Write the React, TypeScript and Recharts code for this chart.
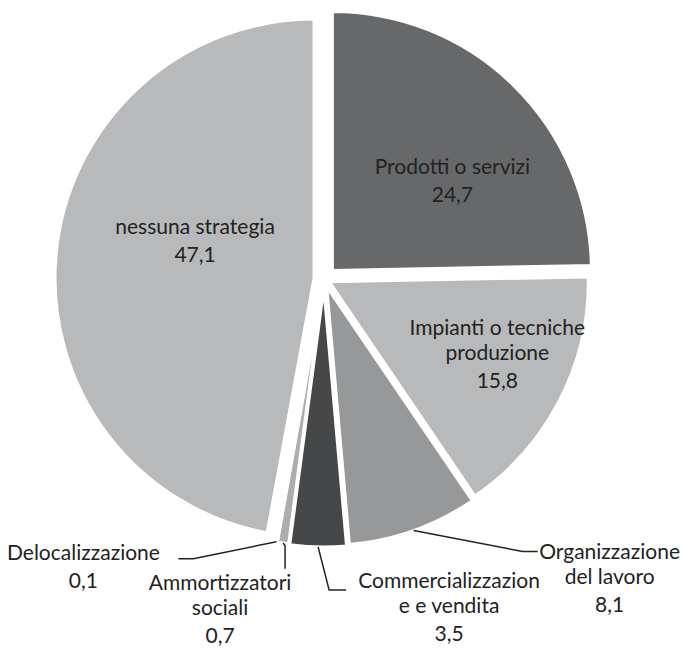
import { PieChart, Pie, Cell, Sector } from 'recharts';

const categories = [
  'Prodotti o servizi',
  'Impianti o tecniche produzione',
  'Organizzazione del lavoro',
  'Commercializzazione e vendita',
  'Ammortizzatori sociali',
  'Delocalizzazione',
  'nessuna strategia',
];
const values = [24.7, 15.8, 8.1, 3.5, 0.7, 0.1, 47.1];
const valueLabels = ['24,7', '15,8', '8,1', '3,5', '0,7', '0,1', '47,1'];
const labelLines = [
  ['Prodotti o servizi'],
  ['Impianti o tecniche', 'produzione'],
  ['Organizzazione', 'del lavoro'],
  ['Commercializzazion', 'e e vendita'],
  ['Ammortizzatori', 'sociali'],
  ['Delocalizzazione'],
  ['nessuna strategia'],
];

const colors = ['#67686a', '#b8b9bb', '#97989a', '#464749', '#acadaf', '#b8b9bb', '#b8b9bb'];
// how far each slice is pulled out of the centre
const explode = [12, 6, 8, 9, 8, 8, 10];

// label placement: inside = first line relative to slice tip,
// outside = leader elbow / end and first text line relative to arc midpoint
type LabelLayout =
  | { kind: 'inside'; dx: number; dy: number }
  | { kind: 'outside'; elbow: [number, number]; end: [number, number]; text: [number, number] };

const layouts: LabelLayout[] = [
  { kind: 'inside', dx: 120, dy: -105 },
  { kind: 'inside', dx: 168, dy: 45 },
  { kind: 'outside', elbow: [109, 21], end: [124, 21], text: [196, 20] },
  { kind: 'outside', elbow: [11, 43], end: [28, 43], text: [131, 33] },
  { kind: 'outside', elbow: [2, 3], end: [2, 26], text: [-63, 39] },
  { kind: 'outside', elbow: [-83, 17], end: [-98, 17], text: [-193, 10] },
  { kind: 'inside', dx: -119, dy: -53 },
];

const data = categories.map((name, i) => ({ name, value: values[i] }));

const FONT = 'Lato, "Open Sans", sans-serif';
const NAME_GAP = 25;
const VALUE_GAP = 28;
const RAD = Math.PI / 180;

function shift(midAngle: number, idx: number) {
  const e = explode[idx] ?? 0;
  return { dx: e * Math.cos(-midAngle * RAD), dy: e * Math.sin(-midAngle * RAD) };
}

const ExplodedSector = (props: any) => {
  const idx = categories.indexOf(props.name ?? props.payload?.name);
  const { dx, dy } = shift(props.midAngle, idx);
  return <Sector {...props} cx={props.cx + dx} cy={props.cy + dy} />;
};

function LabelText({ idx, x, y }: { idx: number; x: number; y: number }) {
  const names = labelLines[idx];
  const rows = names.map((t, j) => ({ t, y: y + j * NAME_GAP }));
  rows.push({ t: valueLabels[idx], y: y + (names.length - 1) * NAME_GAP + VALUE_GAP });
  return (
    <>
      {rows.map((r, j) => (
        <text key={j} x={x} y={r.y} textAnchor="middle" dominantBaseline="central"
          fontFamily={FONT} fontSize={21} fill="#222">
          {r.t}
        </text>
      ))}
    </>
  );
}

const renderLabel = (props: any) => {
  const idx = categories.indexOf(props.name ?? props.payload?.name);
  if (idx < 0) return null;
  const { dx, dy } = shift(props.midAngle, idx);
  const tipX = props.cx + dx;
  const tipY = props.cy + dy;
  const layout = layouts[idx];

  if (layout.kind === 'inside') {
    return (
      <g key={`lbl-${idx}`}>
        <LabelText idx={idx} x={tipX + layout.dx} y={tipY + layout.dy} />
      </g>
    );
  }

  const ax = tipX + props.outerRadius * Math.cos(-props.midAngle * RAD);
  const ay = tipY + props.outerRadius * Math.sin(-props.midAngle * RAD);
  const pts = [
    [ax, ay],
    [ax + layout.elbow[0], ay + layout.elbow[1]],
    [ax + layout.end[0], ay + layout.end[1]],
  ];
  return (
    <g key={`lbl-${idx}`}>
      <polyline points={pts.map((p) => p.join(',')).join(' ')} fill="none" stroke="#222" strokeWidth={1.5} />
      <LabelText idx={idx} x={ax + layout.text[0]} y={ay + layout.text[1]} />
    </g>
  );
};

export default function App() {
  return (
    <div style={{ position: 'absolute', left: 0, top: 0, width: 684, height: 665, background: '#fff' }}>
      <PieChart width={684} height={665} margin={{ top: 0, right: 0, bottom: 0, left: 0 }}>
        <Pie
          data={data}
          dataKey="value"
          nameKey="name"
          cx={324}
          cy={279}
          outerRadius={259}
          startAngle={90}
          endAngle={-270}
          stroke="#fff"
          strokeWidth={3}
          shape={ExplodedSector}
          label={renderLabel}
          labelLine={false}
          isAnimationActive={false}
        >
          {data.map((_d, i) => (
            <Cell key={`cell-${i}`} fill={colors[i]} />
          ))}
        </Pie>
      </PieChart>
    </div>
  );
}
